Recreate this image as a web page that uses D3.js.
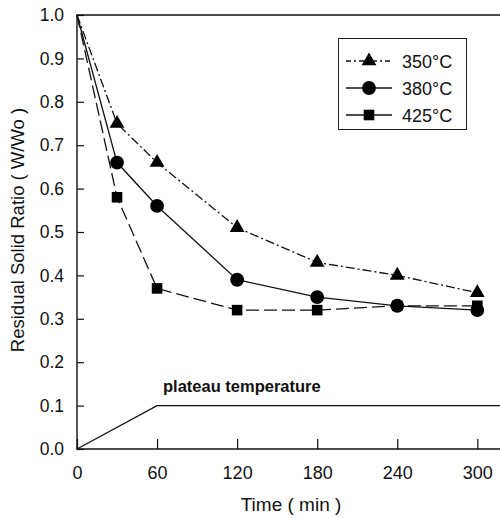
<!DOCTYPE html>
<html>
<head>
<meta charset="utf-8">
<script src="https://cdn.jsdelivr.net/npm/d3@7"></script>
<style>
  body { margin: 0; background: #fff; }
  svg { font-family: "Liberation Sans", Arial, sans-serif; }
</style>
</head>
<body>
<div id="chart"></div>
<script>
// Residual solid ratio vs time at three plateau temperatures
const times = [0, 30, 60, 120, 180, 240, 300];
const series350 = [1.0, 0.75, 0.66, 0.51, 0.43, 0.40, 0.36];
const series380 = [1.0, 0.66, 0.56, 0.39, 0.35, 0.33, 0.32];
const series425 = [1.0, 0.58, 0.37, 0.32, 0.32, 0.33, 0.33];
const seriesNames = ["350°C", "380°C", "425°C"];
const xTicks = [0, 60, 120, 180, 240, 300];
const yTicks = [0.0, 0.1, 0.2, 0.3, 0.4, 0.5, 0.6, 0.7, 0.8, 0.9, 1.0];
// heating program: ramp then plateau
const rampTimes = [0, 60, 320];
const rampValues = [0, 0.1, 0.1];

const width = 500, height = 518;
const margin = { left: 77, right: 0, top: 15, bottom: 69 };

const svg = d3.select("#chart").append("svg")
  .attr("width", width)
  .attr("height", height);

const x = d3.scaleLinear().domain([0, 317]).range([margin.left, width - margin.right]);
const y = d3.scaleLinear().domain([0, 1]).range([height - margin.bottom, margin.top]);

// frame: left, bottom, top (right side is cut off)
svg.append("path")
  .attr("d", `M${x(317)},${y(1)}H${x(0)}V${y(0)}H${x(317)}`)
  .attr("fill", "none")
  .attr("stroke", "#111")
  .attr("stroke-width", 1.4);

// y ticks (inward) + labels
const yAxis = d3.axisLeft(y).tickValues(yTicks).tickFormat(d3.format(".1f"))
  .tickSizeInner(-7).tickSizeOuter(0).tickPadding(13);
svg.append("g")
  .attr("transform", `translate(${x(0)},0)`)
  .call(yAxis)
  .call(g => g.select(".domain").remove())
  .call(g => g.selectAll("line").attr("stroke", "#111").attr("stroke-width", 1.2))
  .call(g => g.selectAll("text").attr("fill", "#111").style("font-size", "17.5px"));

// x ticks (inward) + labels
const xAxis = d3.axisBottom(x).tickValues(xTicks).tickSizeInner(-10).tickSizeOuter(0).tickPadding(17);
svg.append("g")
  .attr("transform", `translate(0,${y(0)})`)
  .call(xAxis)
  .call(g => g.select(".domain").remove())
  .call(g => g.selectAll("line").attr("stroke", "#111").attr("stroke-width", 1.2))
  .call(g => g.selectAll("text").attr("fill", "#111").style("font-size", "18px"));

// axis titles
svg.append("text")
  .attr("transform", `translate(24,230) rotate(-90)`)
  .attr("text-anchor", "middle")
  .attr("fill", "#111")
  .style("font-size", "18.5px")
  .text("Residual Solid Ratio ( W/Wo )");

svg.append("text")
  .attr("x", 291)
  .attr("y", 511)
  .attr("text-anchor", "middle")
  .attr("fill", "#111")
  .style("font-size", "19px")
  .text("Time ( min )");

// plateau temperature line
const line = d3.line().x(d => x(d[0])).y(d => y(d[1]));
svg.append("path")
  .attr("d", line(d3.zip(rampTimes, rampValues)))
  .attr("fill", "none")
  .attr("stroke", "#111")
  .attr("stroke-width", 1.3);

svg.append("text")
  .attr("x", 163)
  .attr("y", 392)
  .attr("fill", "#111")
  .style("font-size", "16.5px")
  .style("font-weight", "bold")
  .text("plateau temperature");

// series
const seriesData = [series350, series380, series425];
const dashes = ["9,3,2,3", null, "13,5"];
const symbols = [d3.symbolTriangle, d3.symbolCircle, d3.symbolSquare];
const symSizes = [95, 150, 112];

seriesData.forEach((vals, i) => {
  const pts = d3.zip(times, vals);
  svg.append("path")
    .attr("d", line(pts))
    .attr("fill", "none")
    .attr("stroke", "#111")
    .attr("stroke-width", 1.3)
    .attr("stroke-dasharray", dashes[i]);
});

// markers drawn after lines (squares under circles at 300 like ref)
[2, 0, 1].forEach(i => {
  const pts = d3.zip(times, seriesData[i]).slice(1);
  svg.append("g").selectAll("path")
    .data(pts)
    .join("path")
    .attr("transform", d => `translate(${x(d[0])},${y(d[1])})`)
    .attr("d", d3.symbol(symbols[i], symSizes[i]))
    .attr("fill", "#000");
});

// legend
const legend = svg.append("g");
legend.append("rect")
  .attr("x", 338.5).attr("y", 38.5)
  .attr("width", 128).attr("height", 91)
  .attr("fill", "#fff")
  .attr("stroke", "#222")
  .attr("stroke-width", 1);

seriesNames.forEach((name, i) => {
  const ly = 61 + i * 27;
  legend.append("line")
    .attr("x1", 346).attr("x2", 392)
    .attr("y1", ly).attr("y2", ly)
    .attr("stroke", "#111")
    .attr("stroke-width", 1.3)
    .attr("stroke-dasharray", i === 0 ? "5,3,2,3" : null);
  legend.append("path")
    .attr("transform", `translate(369,${ly})`)
    .attr("d", d3.symbol(symbols[i], symSizes[i]))
    .attr("fill", "#000");
  legend.append("text")
    .attr("x", 402)
    .attr("y", ly + 7)
    .attr("fill", "#111")
    .style("font-size", "18px")
    .text(name);
});
</script>
</body>
</html>
